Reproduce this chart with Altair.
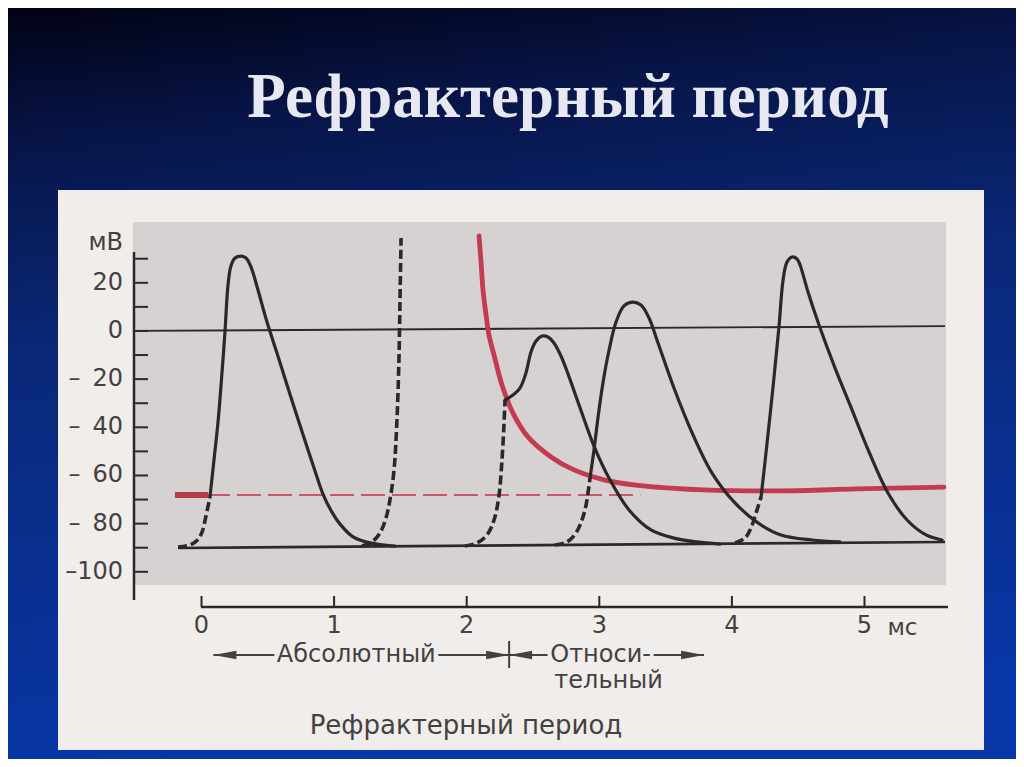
import altair as alt
import pandas as pd

# ---------------- data (ms, mV) ----------------
ap1_dash_ms = [-0.177, -0.087, -0.034, 0.004, 0.034, 0.064]
ap1_dash_mv = [-89.7, -88.9, -87.0, -83.5, -76.8, -68.9]
ap1_ms = [0.064, 0.094, 0.124, 0.155, 0.177, 0.200, 0.222, 0.253, 0.298, 0.336, 0.373, 0.426,
          0.494, 0.569, 0.645, 0.720, 0.796, 0.856, 0.916, 0.984, 1.045, 1.143, 1.270, 1.459]
ap1_mv = [-68.9, -53.6, -38.2, -17.0, -0.4, 19.1, 27.0, 30.3, 31.1, 30.3, 26.6, 17.0,
          3.7, -9.1, -22.4, -35.3, -48.2, -58.1, -67.7, -75.2, -80.2, -85.5, -88.0, -89.3]

ap2_dash_ms = [1.210, 1.286, 1.346, 1.391, 1.421, 1.452, 1.474, 1.489, 1.497, 1.505]
ap2_dash_mv = [-89.3, -87.6, -83.9, -77.7, -70.2, -57.7, -37.0, -12.0, 12.9, 38.6]

ap3_dash_ms = [1.987, 2.078, 2.153, 2.206, 2.244, 2.266, 2.281, 2.289]
ap3_dash_mv = [-89.3, -88.0, -84.7, -78.5, -68.1, -53.6, -39.0, -28.7]
ap3_ms = [2.289, 2.349, 2.402, 2.447, 2.485, 2.523, 2.568, 2.613, 2.658, 2.711, 2.764, 2.847,
          2.960, 3.081, 3.224, 3.390, 3.563, 3.737, 3.910]
ap3_mv = [-28.7, -26.6, -23.7, -17.4, -8.7, -4.2, -2.1, -2.5, -5.0, -10.4, -17.8, -30.7,
          -47.8, -61.9, -74.3, -82.6, -86.0, -87.6, -88.5]

ap4_dash_ms = [2.666, 2.756, 2.824, 2.869, 2.900, 2.930]
ap4_dash_mv = [-88.9, -87.6, -83.9, -78.5, -72.3, -61.0]
ap4_ms = [2.930, 2.960, 2.990, 3.028, 3.073, 3.126, 3.186, 3.247, 3.314, 3.375, 3.443, 3.563,
          3.707, 3.850, 4.023, 4.197, 4.370, 4.604, 4.815]
ap4_mv = [-61.0, -49.4, -36.0, -21.4, -8.1, 3.7, 10.4, 12.0, 10.8, 5.4, -5.0, -23.7,
          -43.2, -59.0, -71.4, -79.7, -84.7, -86.8, -87.6]

ap5_dash_ms = [4.023, 4.099, 4.144, 4.182, 4.220]
ap5_dash_mv = [-88.0, -86.0, -81.8, -75.6, -68.9]
ap5_ms = [4.220, 4.257, 4.310, 4.355, 4.386, 4.416, 4.454, 4.491, 4.514, 4.574, 4.657, 4.778,
          4.891, 5.034, 5.177, 5.321, 5.464, 5.585]
ap5_mv = [-68.9, -50.7, -23.3, 1.7, 21.2, 28.7, 30.7, 29.9, 27.4, 16.2, 2.5, -15.4,
          -30.7, -50.2, -67.3, -78.5, -84.7, -86.8]

# threshold (excitability) curve
red_ms = [2.093, 2.108, 2.123, 2.146, 2.168, 2.206, 2.266, 2.349, 2.462, 2.636, 2.809, 3.043,
          3.277, 3.790, 4.370, 4.943, 5.599]
red_mv = [39.5, 28.7, 17.0, 6.6, -1.7, -10.0, -22.4, -34.1, -44.0, -52.3, -57.7, -61.9,
          -64.0, -66.0, -66.4, -65.6, -64.8]

# critical level (dashed red), zero line, resting potential line
thr_ms = [-0.20, 3.31]
thr_mv = [-68.1, -68.1]
thr_mark_ms = [-0.20, 0.05]
zero_ms = [-0.516, 5.607]
zero_mv = [0.0, 2.0]
base_ms = [-0.177, 5.607]
base_mv = [-90.1, -87.6]

# axes
y_tick_values = [-100, -90, -80, -70, -60, -50, -40, -30, -20, -10, 0, 10, 20, 30]
y_label_values = [20, 0, -20, -40, -60, -80, -100]
y_label_text = ["20", "0", "\u2013\u200220", "\u2013\u200240", "\u2013\u200260", "\u2013\u200280", "\u2013100"]
x_tick_values = [0, 1, 2, 3, 4, 5]
x_label_text = ["0", "1", "2", "3", "4", "5"]

# refractory periods
period_names = ["Абсолютный", "Относи-"]
period_start = [0.09, 2.32]
period_end = [2.32, 3.79]

title_text = "Рефрактерный период"
caption_text = "Рефрактерный период"

# ---------------- helpers ----------------
W, H = 1008, 751
xs = alt.Scale(domain=[0, 5], range=[193.5, 856.5], nice=False, zero=False)
ys = alt.Scale(domain=[-100, 20], range=[563.8, 274.8], nice=False, zero=False)
X = lambda f="ms": alt.X(f"{f}:Q", scale=xs, axis=None)
Y = lambda f="mv": alt.Y(f"{f}:Q", scale=ys, axis=None)

INK = "#2a2828"
TXT = "#434141"
PAPER = "#f1edea"
RED = "#c43a50"
FONT = "DejaVu Sans"


def frame(parts):
    rows = []
    for name, ms, mv in parts:
        for i, (a, b) in enumerate(zip(ms, mv)):
            rows.append({"trace": name, "i": i, "ms": a, "mv": b})
    return pd.DataFrame(rows)


def lines(df, color, width, dash=None, cap="round", interp="catmull-rom"):
    kw = dict(color=color, strokeWidth=width, interpolate=interp, clip=False,
              strokeCap=cap, strokeJoin="round")
    if dash:
        kw["strokeDash"] = dash
    return alt.Chart(df).mark_line(**kw).encode(
        x=X(), y=Y(), detail="trace:N", order="i:Q")


one = pd.DataFrame({"k": [0]})

# ---------------- decorations ----------------
bg = alt.Chart(one).mark_rect(
    fill=alt.LinearGradient(
        gradient="linear", x1=0, x2=0.15, y1=0, y2=1,
        stops=[alt.GradientStop(color="#020214", offset=0),
               alt.GradientStop(color="#071548", offset=0.18),
               alt.GradientStop(color="#0a2878", offset=0.45),
               alt.GradientStop(color="#0836a6", offset=1)]),
    strokeWidth=0,
).encode(x=alt.value(0), x2=alt.value(W), y=alt.value(0), y2=alt.value(H))

paper = alt.Chart(one).mark_rect(fill=PAPER, strokeWidth=0).encode(
    x=alt.value(50), x2=alt.value(976), y=alt.value(182), y2=alt.value(742))
panel = alt.Chart(one).mark_rect(fill="#d5d2d1", strokeWidth=0).encode(
    x=alt.value(125), x2=alt.value(938), y=alt.value(214), y2=alt.value(577))

title = alt.Chart(pd.DataFrame({"t": [title_text]})).mark_text(
    font="Liberation Serif", fontWeight="bold", fontSize=63, color="#e8e8f2",
    align="center", baseline="alphabetic"
).encode(x=alt.value(560), y=alt.value(109), text="t:N")

# ---------------- axes ----------------
y_axis_line = alt.Chart(one).mark_rule(color=INK, strokeWidth=2.5).encode(
    x=alt.value(126), y=alt.value(244), y2=alt.value(592))
y_ticks = alt.Chart(pd.DataFrame({"v": y_tick_values})).mark_rule(
    color=INK, strokeWidth=2, clip=False).encode(
    x=alt.value(126), x2=alt.value(140), y=Y("v"))
y_labels = alt.Chart(pd.DataFrame({"v": y_label_values, "t": y_label_text})).mark_text(
    align="right", baseline="middle", font=FONT, fontSize=24, color=TXT, clip=False
).encode(x=alt.value(115), y=Y("v"), text="t:N")
y_unit = alt.Chart(pd.DataFrame({"t": ["мВ"]})).mark_text(
    align="right", baseline="middle", font=FONT, fontSize=24, color=TXT
).encode(x=alt.value(115), y=alt.value(235), text="t:N")

x_axis_line = alt.Chart(one).mark_rule(color=INK, strokeWidth=2.5).encode(
    x=alt.value(193), x2=alt.value(940), y=alt.value(599))
x_ticks = alt.Chart(pd.DataFrame({"v": x_tick_values})).mark_rule(
    color=INK, strokeWidth=2, clip=False).encode(
    x=X("v"), y=alt.value(588), y2=alt.value(599))
x_labels = alt.Chart(pd.DataFrame({"v": x_tick_values, "t": x_label_text})).mark_text(
    align="center", baseline="middle", font=FONT, fontSize=24, color=TXT, clip=False
).encode(x=X("v"), y=alt.value(618), text="t:N")
x_unit = alt.Chart(pd.DataFrame({"v": [5], "t": ["мс"]})).mark_text(
    align="center", baseline="middle", font=FONT, fontSize=23, color=TXT, dx=38
).encode(x=X("v"), y=alt.value(620), text="t:N")

# ---------------- curves ----------------
zero_line = lines(frame([("zero", zero_ms, zero_mv)]), INK, 1.8, cap="butt", interp="linear")
base_line = lines(frame([("base", base_ms, base_mv)]), INK, 2.6, cap="butt", interp="linear")
thr_line = lines(frame([("thr", thr_ms, thr_mv)]), "#c9566a", 2, dash=[24, 7], cap="butt",
                 interp="linear")
thr_mark = lines(frame([("thrm", thr_mark_ms, thr_mv)]), "#b53a4c", 6, cap="butt", interp="linear")

red_curve = lines(frame([("red", red_ms, red_mv)]), RED, 4.8)

solid_df = frame([("ap1", ap1_ms, ap1_mv), ("ap3", ap3_ms, ap3_mv),
                  ("ap4", ap4_ms, ap4_mv), ("ap5", ap5_ms, ap5_mv)])
dash_df = frame([("d1", ap1_dash_ms, ap1_dash_mv), ("d2", ap2_dash_ms, ap2_dash_mv),
                 ("d3", ap3_dash_ms, ap3_dash_mv), ("d4", ap4_dash_ms, ap4_dash_mv),
                 ("d5", ap5_dash_ms, ap5_dash_mv)])
solid = lines(solid_df, INK, 3.2)
dashed = lines(dash_df, INK, 3.6, dash=[9, 4], cap="butt")

# ---------------- refractory period annotation ----------------
periods = pd.DataFrame({"name": period_names, "start": period_start, "end": period_end})
periods["mid"] = (periods.start + periods.end) / 2
ARROW_Y = 647
LABEL_FS = 24
# half-width of each label (px) + gap, label shift (px)
label_half = [82, 53]
label_dx = [-5, -6]

period_layers = []
for k in range(len(period_names)):
    row = periods.iloc[[k]]
    c = alt.Chart(row)
    period_layers += [
        c.mark_rule(color=TXT, strokeWidth=2, clip=False,
                    x2Offset=label_dx[k] - label_half[k]).encode(
            x=X("start"), x2="mid:Q", y=alt.value(ARROW_Y)),
        c.mark_rule(color=TXT, strokeWidth=2, clip=False,
                    xOffset=label_dx[k] + label_half[k]).encode(
            x=X("mid"), x2="end:Q", y=alt.value(ARROW_Y)),
        c.mark_text(font=FONT, fontSize=LABEL_FS, color=TXT, align="center",
                    baseline="middle", dx=label_dx[k]).encode(
            x=X("mid"), y=alt.value(ARROW_Y), text="name:N"),
    ]

head_l = alt.Chart(periods).mark_point(
    shape="M 0 0 L 2 -0.36 L 2 0.36 Z", filled=True, size=530, color=TXT, opacity=1,
    strokeWidth=0, clip=False).encode(x=X("start"), y=alt.value(ARROW_Y))
head_r = alt.Chart(periods).mark_point(
    shape="M 0 0 L -2 -0.36 L -2 0.36 Z", filled=True, size=530, color=TXT, opacity=1,
    strokeWidth=0, clip=False).encode(x=X("end"), y=alt.value(ARROW_Y))
divider = alt.Chart(periods.iloc[[0]]).mark_rule(color=TXT, strokeWidth=2).encode(
    x=X("end"), y=alt.value(633), y2=alt.value(660))

second = alt.Chart(periods.iloc[[1]].assign(t="тельный")).mark_text(
    font=FONT, fontSize=LABEL_FS, color=TXT, align="center", baseline="middle", dx=2
).encode(x=X("mid"), y=alt.value(673), text="t:N")

caption = alt.Chart(pd.DataFrame({"t": [caption_text]})).mark_text(
    font=FONT, fontSize=26, color=TXT, align="center", baseline="middle"
).encode(x=alt.value(458), y=alt.value(718), text="t:N")

chart = alt.layer(
    bg, paper, panel, title,
    zero_line, base_line, thr_line, thr_mark, red_curve, dashed, solid,
    y_axis_line, y_ticks, y_labels, y_unit,
    x_axis_line, x_ticks, x_labels, x_unit,
    *period_layers, head_l, head_r, divider, second, caption,
).properties(
    width=W, height=H, padding=0, autosize=alt.AutoSizeParams(type="none"),
    background="#0a2470",
).configure_view(stroke=None)

chart.save("out.html", embed_options={"renderer": "svg", "actions": False})
